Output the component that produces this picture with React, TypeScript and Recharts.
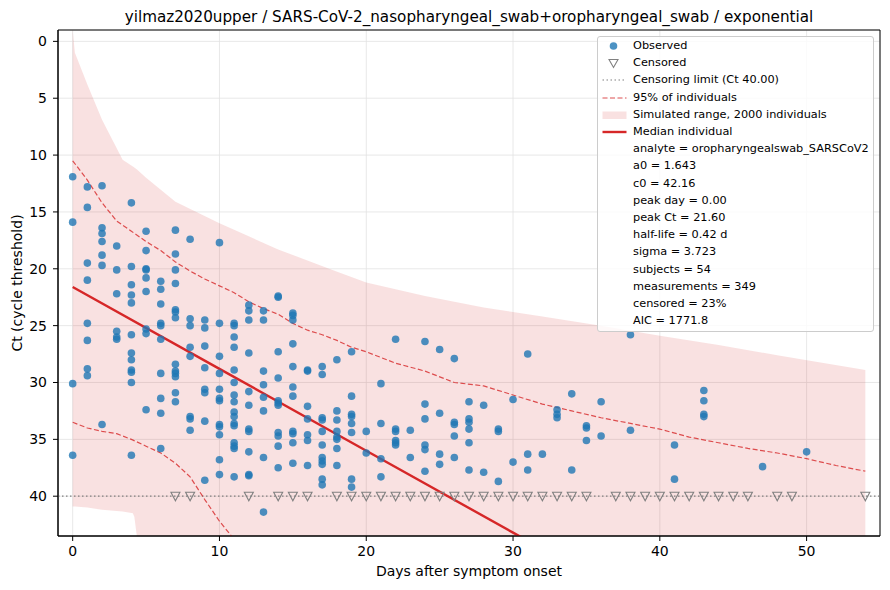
import React from 'react';
import {
  ComposedChart, Area, Line, Scatter, XAxis, YAxis, CartesianGrid, ReferenceLine, ReferenceArea,
} from 'recharts';

const xTicks = [0, 10, 20, 30, 40, 50];
const yTicks = [0, 5, 10, 15, 20, 25, 30, 35, 40];
const censorLimit = 40;

// observed Ct values, grouped by day after symptom onset
const observedByDay: [number, number[]][] = [
  [0, [11.9, 15.9, 30.1, 36.4]],
  [1, [12.8, 14.6, 19.5, 21.0, 24.8, 26.3, 28.8, 29.4]],
  [2, [12.7, 16.4, 16.9, 17.6, 18.8, 19.7, 33.7]],
  [3, [18.0, 20.1, 22.2, 25.5, 26.0, 26.2]],
  [4, [14.2, 19.8, 21.4, 22.3, 23.0, 25.8, 27.4, 28.0, 28.9, 29.1, 30.0, 36.4]],
  [5, [16.7, 18.4, 20.0, 20.1, 20.8, 22.0, 25.3, 25.7, 32.4]],
  [6, [21.1, 21.8, 23.1, 24.8, 25.0, 26.2, 29.2, 31.4, 32.7, 35.8]],
  [7, [16.6, 18.7, 20.1, 21.3, 23.6, 23.8, 24.3, 28.4, 29.0, 29.2, 29.5, 30.9, 31.7]],
  [8, [17.4, 24.4, 25.0, 26.9, 27.7, 33.0, 33.2, 34.2]],
  [9, [24.5, 25.2, 26.8, 28.7, 30.6, 30.9, 33.4, 38.6]],
  [10, [17.7, 24.8, 27.7, 29.2, 30.6, 31.4, 31.6, 33.7, 33.9, 34.6, 36.8, 38.1]],
  [11, [24.8, 25.0, 26.0, 26.9, 28.9, 30.0, 31.1, 31.7, 32.6, 33.0, 33.6, 33.8, 35.3, 35.6, 35.8, 38.3]],
  [12, [23.2, 23.7, 24.5, 27.4, 30.8, 32.0, 34.1, 34.3, 36.1, 38.1, 38.2]],
  [13, [23.7, 24.5, 29.0, 30.2, 31.3, 32.5, 36.6, 41.4]],
  [14, [22.4, 22.5, 27.3, 29.6, 31.6, 31.8, 32.0, 34.4, 34.7, 35.6, 37.5]],
  [15, [23.9, 24.1, 24.5, 26.6, 28.6, 30.4, 31.2, 34.3, 34.5, 35.3, 37.1]],
  [16, [28.9, 29.0, 32.1, 33.2, 34.6, 35.1, 37.3]],
  [17, [28.6, 29.3, 33.1, 33.3, 34.3, 35.5, 36.6, 36.9, 37.2, 38.5, 39.0]],
  [18, [28.0, 32.5, 33.3, 34.3, 34.8, 35.0, 35.8, 37.3]],
  [19, [27.3, 31.2, 32.8, 33.0, 33.6, 34.4, 38.5, 39.2]],
  [20, [34.3, 36.2]],
  [21, [30.1, 33.6, 36.7, 38.3]],
  [22, [26.2, 34.1, 34.3, 35.1, 35.3, 35.5]],
  [23, [34.2, 36.6]],
  [24, [26.4, 31.9, 33.2, 35.5, 35.9, 37.8]],
  [25, [27.1, 32.7, 36.3, 37.2]],
  [26, [27.9, 33.5, 33.7, 34.7, 36.6]],
  [27, [31.7, 33.2, 33.5, 34.1, 35.3, 37.7]],
  [28, [32.0, 37.9]],
  [29, [34.1, 34.3, 38.7]],
  [30, [31.5, 37.0]],
  [31, [27.5, 36.3, 37.7]],
  [32, [36.3]],
  [33, [32.4, 32.8, 33.1]],
  [34, [31.0, 37.7]],
  [35, [33.8, 34.0, 35.1]],
  [36, [31.7, 34.7]],
  [38, [25.8, 34.2]],
  [41, [35.5, 38.5]],
  [43, [30.7, 31.6, 32.8, 33.0]],
  [47, [37.4]],
  [50, [36.1]],
];

// days with a censored (non-detect) measurement
const censoredDays = [7, 8, 12, 14, 15, 16, 18, 19, 20, 21, 22, 23, 24, 25, 26, 27, 28, 29, 30,
  31, 32, 33, 34, 35, 37, 38, 39, 40, 41, 42, 43, 44, 45, 46, 48, 49, 54];

// median individual
const medianDays = [0, 10, 20, 30, 40, 54];
const medianCt = [21.6, 28.8, 36.0, 43.2, 50.4, 60.5];

// 95% of individuals, low-Ct edge
const upperDays = [0, 1, 2, 3, 4, 5, 6, 7, 8, 9, 10, 11, 12, 13, 14, 15, 16, 17, 18, 19, 20,
  22, 24, 26, 28, 30, 32, 34, 36, 38, 40, 42, 44, 46, 48, 50, 52, 54];
const upperCt = [10.5, 12.2, 14.2, 15.8, 16.7, 17.6, 18.4, 19.4, 20.2, 20.9, 21.5, 22.1, 22.9,
  23.5, 24.0, 24.8, 25.4, 25.8, 26.3, 26.9, 27.3, 28.3, 29.0, 30.0, 30.3, 31.1, 31.9, 32.5,
  33.1, 33.6, 34.1, 34.8, 35.3, 35.8, 36.2, 36.7, 37.3, 37.8];

// 95% of individuals, high-Ct edge
const lowerDays = [0, 1, 2, 3, 4, 5, 6, 7, 8, 9, 10, 11, 12];
const lowerCt = [33.5, 34.0, 34.3, 34.5, 35.0, 35.6, 36.2, 37.1, 38.3, 40.3, 42.2, 43.8, 45.5];

// simulated range, 2000 individuals
const simDays = [0, 0.15, 1, 2, 3, 3.4, 4.1, 4.2, 4.4, 5, 7, 10, 14, 17.7, 20, 24, 28, 32, 36,
  40, 44, 48, 54];
const simTop = [-1, 1.0, 3.8, 6.9, 9.4, 10.4, 11.0, 11.1, 11.3, 12.0, 14.1, 16.0, 18.3, 20.1,
  21.2, 22.4, 23.4, 24.2, 25.0, 25.9, 26.7, 27.6, 28.9];
const simBottom = [40.9, 40.9, 41.0, 41.2, 41.3, 41.35, 41.5, 41.8, 43.8, 46, 46, 46, 46, 46,
  46, 46, 46, 46, 46, 46, 46, 46, 46];

const fitStats = [
  'analyte = oropharyngealswab_SARSCoV2',
  'a0 = 1.643',
  'c0 = 42.16',
  'peak day = 0.00',
  'peak Ct = 21.60',
  'half-life = 0.42 d',
  'sigma = 3.723',
  'subjects = 54',
  'measurements = 349',
  'censored = 23%',
  'AIC = 1771.8',
];

const RED = '#d62728';
const BLUE = '#1f77b4';
const GREY = '#808080';
const FONT = '"DejaVu Sans", sans-serif';

const observed = observedByDay.flatMap(([day, cts]) => cts.map((ct) => ({ day, ct })));
const censored = censoredDays.map((day) => ({ day, ct: censorLimit }));
const median = medianDays.map((day, i) => ({ day, ct: medianCt[i] }));
const upper = upperDays.map((day, i) => ({ day, ct: upperCt[i] }));
const lower = lowerDays.map((day, i) => ({ day, ct: lowerCt[i] }));
const simRange = simDays.map((day, i) => ({ day, range: [simTop[i], simBottom[i]] }));

const Dot = (p: any) => (
  <circle cx={p.cx} cy={p.cy} r={3.8} fill={BLUE} fillOpacity={0.8} />
);

const Tri = (p: any) => (
  <path
    d={`M${p.cx - 4.5},${p.cy - 4} L${p.cx + 4.5},${p.cy - 4} L${p.cx},${p.cy + 4.5} Z`}
    fill="none" stroke={GREY} strokeWidth={1.1}
  />
);

function Handle({ kind }: { kind: string }) {
  return (
    <svg width={30} height={16} style={{ position: 'absolute', left: 0, top: 0 }}>
      {kind === 'obs' && <circle cx={15.5} cy={8} r={3.8} fill={BLUE} fillOpacity={0.8} />}
      {kind === 'cens' && <path d="M11,4.5 L20,4.5 L15.5,12.5 Z" fill="none" stroke={GREY} strokeWidth={1.1} />}
      {kind === 'limit' && <line x1={4.5} x2={28.5} y1={8} y2={8} stroke={GREY} strokeWidth={1.2} strokeDasharray="1.5 2.5" />}
      {kind === 'band' && <line x1={4.5} x2={28.5} y1={8} y2={8} stroke={RED} strokeOpacity={0.8} strokeWidth={1.2} strokeDasharray="5 2.5" />}
      {kind === 'sim' && <rect x={4.5} y={4.5} width={24} height={7.5} fill={RED} fillOpacity={0.14} />}
      {kind === 'median' && <line x1={4.5} x2={28.5} y1={8} y2={8} stroke={RED} strokeWidth={2.4} />}
    </svg>
  );
}

const legendRows = [
  { kind: 'obs', label: 'Observed' },
  { kind: 'cens', label: 'Censored' },
  { kind: 'limit', label: 'Censoring limit (Ct 40.00)' },
  { kind: 'band', label: '95% of individuals' },
  { kind: 'sim', label: 'Simulated range, 2000 individuals' },
  { kind: 'median', label: 'Median individual' },
  ...fitStats.map((label) => ({ kind: 'none', label })),
];

function StatsLegend() {
  return (
    <div style={{
      position: 'absolute', left: 597, top: 36, width: 277, height: 296, boxSizing: 'border-box',
      background: 'rgba(255,255,255,0.8)', border: '1px solid #cccccc', borderRadius: 3,
      fontSize: 11.3, color: '#000',
    }}>
      {legendRows.map((row, i) => (
        <div key={i} style={{ position: 'absolute', left: 0, top: 1 + i * 17.2, height: 16, width: 270 }}>
          <Handle kind={row.kind} />
          <span style={{ position: 'absolute', left: 35, top: 0, lineHeight: '16px', whiteSpace: 'nowrap' }}>
            {row.label}
          </span>
        </div>
      ))}
    </div>
  );
}

export default function App() {
  return (
    <div style={{ position: 'absolute', left: 0, top: 0, width: 890, height: 590, background: '#fff', fontFamily: FONT }}>
      <div style={{ position: 'absolute', left: 58, width: 822, top: 7, lineHeight: '20px', fontSize: 15.2, textAlign: 'center', color: '#000', whiteSpace: 'nowrap' }}>
        yilmaz2020upper / SARS-CoV-2_nasopharyngeal_swab+oropharyngeal_swab / exponential
      </div>
      <div style={{ position: 'absolute', left: 17 - 150, top: 283 - 9, width: 300, lineHeight: '18px', fontSize: 14, textAlign: 'center', transform: 'rotate(-90deg)', color: '#000' }}>
        Ct (cycle threshold)
      </div>

      <ComposedChart width={890} height={590} margin={{ top: 30, right: 10, bottom: 24, left: 18 }}>
        <CartesianGrid stroke="#e2e2e2" strokeWidth={0.8} />
        <XAxis
          type="number" dataKey="day" domain={[-1, 55]} ticks={xTicks} allowDataOverflow
          height={30} tickSize={5} tickMargin={5} stroke="#000"
          tick={{ fill: '#000', fontSize: 14 }}
          label={{ value: 'Days after symptom onset', position: 'bottom', offset: 0, fill: '#000', fontSize: 14 }}
        />
        <YAxis
          type="number" domain={[-1, 43.5]} reversed ticks={yTicks} allowDataOverflow
          width={40} tickSize={5} tickMargin={6} stroke="#000"
          tick={{ fill: '#000', fontSize: 14 }}
        />
        <Area data={simRange} dataKey="range" type="linear" stroke="none" fill={RED} fillOpacity={0.14} isAnimationActive={false} />
        <ReferenceLine y={censorLimit} stroke={GREY} strokeWidth={1.3} strokeDasharray="1.5 2.5" />
        <Line data={upper} dataKey="ct" type="linear" stroke={RED} strokeOpacity={0.8} strokeWidth={1.2} strokeDasharray="5 2.5" dot={false} isAnimationActive={false} />
        <Line data={lower} dataKey="ct" type="linear" stroke={RED} strokeOpacity={0.8} strokeWidth={1.2} strokeDasharray="5 2.5" dot={false} isAnimationActive={false} />
        <Line data={median} dataKey="ct" type="linear" stroke={RED} strokeWidth={2.4} dot={false} isAnimationActive={false} />
        <Scatter data={censored} dataKey="ct" shape={Tri} isAnimationActive={false} />
        <Scatter data={observed} dataKey="ct" shape={Dot} isAnimationActive={false} />
        <ReferenceArea x1={-1} x2={55} y1={-1} y2={43.5} fill="none" stroke="#000" strokeWidth={1} />
      </ComposedChart>

      <StatsLegend />
    </div>
  );
}
